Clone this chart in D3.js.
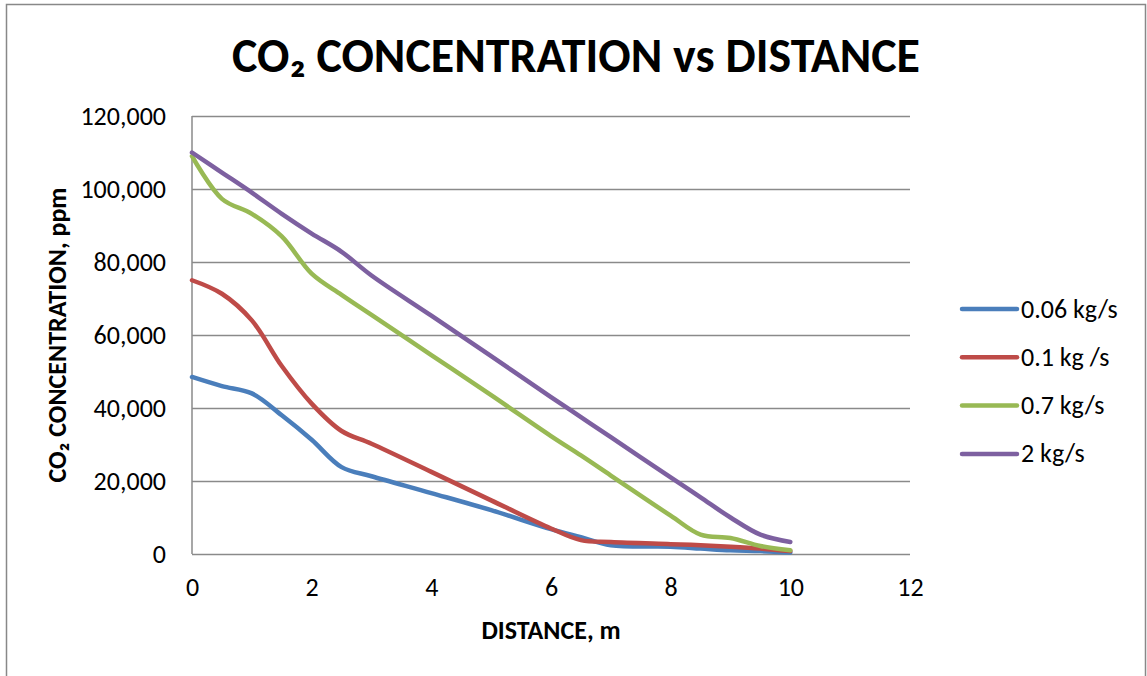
<!DOCTYPE html>
<html>
<head>
<meta charset="utf-8">
<script src="https://cdn.jsdelivr.net/npm/d3@7"></script>
<style>
  body { margin: 0; background: #fff; }
  text { font-family: Carlito, "Liberation Sans", Arial, sans-serif; fill: #000; }
</style>
</head>
<body>
<div id="chart"></div>
<script>
// data (distance in m, concentration in ppm)
var distance = [0, 0.5, 1, 1.5, 2, 2.5, 3, 4, 5, 6, 6.5, 7, 8, 8.5, 9, 9.5, 10];
var flow006 = [48500, 46000, 44000, 38000, 31300, 23800, 21300, 16700, 12000, 6800, 4600, 2400, 2000, 1500, 1000, 800, 400];
var flow01  = [75000, 71300, 64000, 51500, 41200, 33700, 30200, 22500, 14700, 7000, 3800, 3300, 2700, 2400, 2000, 1500, 800];
var flow07  = [109000, 97300, 93200, 87000, 76800, 71000, 65500, 54500, 43500, 32300, 27000, 21500, 10500, 5300, 4400, 2200, 1000];
var flow2   = [110000, 104500, 99000, 93200, 87800, 82800, 76300, 65300, 54200, 43000, 37500, 32000, 21000, 15500, 10000, 5300, 3300];
var seriesNames = ["0.06 kg/s", "0.1 kg /s", "0.7 kg/s", "2 kg/s"];
var seriesColors = ["#4a7ebb", "#be4b48", "#98b954", "#7d60a0"];
var xTicks = [0, 2, 4, 6, 8, 10, 12];
var yTicks = [0, 20000, 40000, 60000, 80000, 100000, 120000];

var allSeries = [flow006, flow01, flow07, flow2];

var W = 1147, H = 676;
var plot = {left: 192, right: 910, top: 116, bottom: 554};

var svg = d3.select("#chart").append("svg")
  .attr("width", W)
  .attr("height", H);

// outer chart border
svg.append("path")
  .attr("d", "M6.5,676 V4.5 H1145.5 V676")
  .attr("fill", "none")
  .attr("stroke", "#888")
  .attr("stroke-width", 1.5);

var x = d3.scaleLinear().domain([0, 12]).range([plot.left, plot.right]);
var y = d3.scaleLinear().domain([0, 120000]).range([plot.bottom, plot.top]);

// y axis with gridlines
var yAxis = svg.append("g")
  .attr("transform", "translate(" + plot.left + ",0)")
  .call(d3.axisLeft(y)
    .tickValues(yTicks)
    .tickSize(-(plot.right - plot.left))
    .tickPadding(26)
    .tickFormat(d3.format(",")));
yAxis.select(".domain").remove();
yAxis.selectAll(".tick line")
  .attr("stroke", "#8a8a8a")
  .attr("stroke-width", 1.3);
yAxis.selectAll(".tick text")
  .attr("font-size", 26)
  .style("font-family", "Carlito, 'Liberation Sans', Arial, sans-serif");

// x axis
var xAxis = svg.append("g")
  .attr("transform", "translate(0," + plot.bottom + ")")
  .call(d3.axisBottom(x)
    .tickValues(xTicks)
    .tickSize(0)
    .tickPadding(24)
    .tickFormat(d3.format("d")));
xAxis.select(".domain").remove();
xAxis.selectAll(".tick text")
  .attr("font-size", 26)
  .style("font-family", "Carlito, 'Liberation Sans', Arial, sans-serif");

// left axis line
svg.append("line")
  .attr("x1", plot.left).attr("x2", plot.left)
  .attr("y1", plot.top).attr("y2", plot.bottom)
  .attr("stroke", "#8a8a8a")
  .attr("stroke-width", 1.5);

// the lines
var line = d3.line()
  .x(function(d) { return x(d[0]); })
  .y(function(d) { return y(d[1]); })
  .curve(d3.curveCatmullRom.alpha(0.5));

svg.selectAll(".series")
  .data(allSeries)
  .enter()
  .append("path")
    .attr("class", "series")
    .attr("d", function(vals) { return line(vals.map(function(v, i) { return [distance[i], v]; })); })
    .attr("fill", "none")
    .attr("stroke", function(d, i) { return seriesColors[i]; })
    .attr("stroke-width", 4.5)
    .attr("stroke-linecap", "round")
    .attr("stroke-linejoin", "round");

// legend
var legend = svg.selectAll(".legend")
  .data(seriesNames)
  .enter()
  .append("g")
    .attr("class", "legend")
    .attr("transform", function(d, i) { return "translate(962," + (309 + i * 48.3) + ")"; });
legend.append("line")
  .attr("x1", 0).attr("x2", 55)
  .attr("stroke", function(d, i) { return seriesColors[i]; })
  .attr("stroke-width", 4.5)
  .attr("stroke-linecap", "round");
legend.append("text")
  .attr("x", 59)
  .attr("dy", "0.33em")
  .attr("font-size", 26)
  .text(function(d) { return d; });

// titles
svg.append("text")
  .attr("x", 576)
  .attr("y", 72)
  .attr("text-anchor", "middle")
  .attr("font-size", 48)
  .attr("font-weight", "bold")
  .attr("textLength", 688)
  .attr("lengthAdjust", "spacingAndGlyphs")
  .text("CO\u2082 CONCENTRATION vs DISTANCE");

svg.append("text")
  .attr("x", 551)
  .attr("y", 639)
  .attr("text-anchor", "middle")
  .attr("font-size", 26)
  .attr("font-weight", "bold")
  .text("DISTANCE, m");

svg.append("text")
  .attr("transform", "translate(66,335) rotate(-90)")
  .attr("text-anchor", "middle")
  .attr("font-size", 26)
  .attr("font-weight", "bold")
  .text("CO\u2082 CONCENTRATION, ppm");
</script>
</body>
</html>
